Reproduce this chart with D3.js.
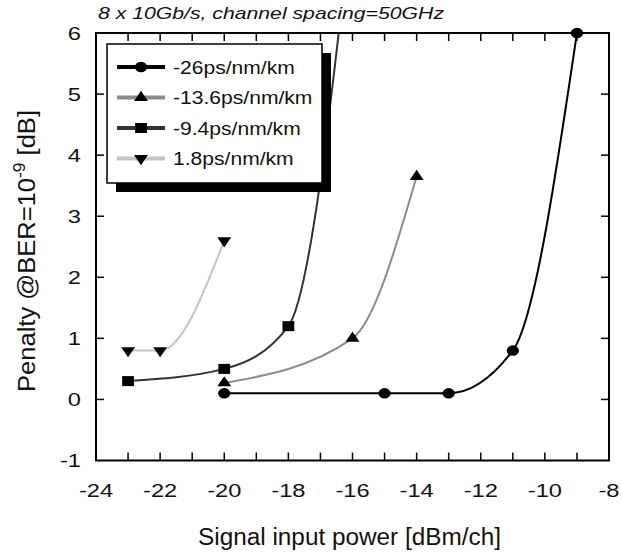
<!DOCTYPE html>
<html><head><meta charset="utf-8">
<script src="https://cdn.jsdelivr.net/npm/d3@7"></script>
<style>body{margin:0;background:#fff}svg{display:block}text{font-family:"Liberation Sans",Arial,Helvetica,sans-serif;fill:#111}</style>
</head><body><svg id="c" width="622" height="553"></svg>
<script>
// ---- data ----
const seriesNames = ["-26ps/nm/km", "-13.6ps/nm/km", "-9.4ps/nm/km", "1.8ps/nm/km"];
const xs26 = [-20, -15, -13, -11, -9];
const ys26 = [0.1, 0.1, 0.1, 0.8, 6];
const xs136 = [-20, -16, -14];
const ys136 = [0.27, 1.0, 3.65];
const xs94 = [-23, -20, -18, -16];
const ys94 = [0.3, 0.5, 1.2, 8];
const xs18 = [-23, -22, -20];
const ys18 = [0.8, 0.8, 2.6];
const xTickLabels = [-24, -22, -20, -18, -16, -14, -12, -10, -8];
const yTickLabels = [-1, 0, 1, 2, 3, 4, 5, 6];
const titleText = "8 x 10Gb/s, channel spacing=50GHz";
const xTitleText = "Signal input power [dBm/ch]";

// ---- styles ----
const colors = ["#000000", "#8c8c8c", "#333333", "#c4c4c4"];
const symbols = ["circle", "up", "square", "down"];
const series = [
  {name: seriesNames[0], xs: xs26, ys: ys26},
  {name: seriesNames[1], xs: xs136, ys: ys136},
  {name: seriesNames[2], xs: xs94, ys: ys94},
  {name: seriesNames[3], xs: xs18, ys: ys18}
];

const svg = d3.select("#c");
const L = 96, R = 609, T = 33, B = 460.5;
const x = d3.scaleLinear().domain([-24, -8]).range([L, R]);
const y = d3.scaleLinear().domain([-1, 6]).range([B, T]);

svg.append("defs").append("clipPath").attr("id", "clip")
  .append("rect").attr("x", L).attr("y", T).attr("width", R - L).attr("height", B - T);

// ticks (inward, all four sides)
const tickLen = 8;
const tg = svg.append("g").attr("stroke", "#000").attr("stroke-width", 1.5);
d3.range(-23, -8).forEach(v => {
  tg.append("line").attr("x1", x(v)).attr("x2", x(v)).attr("y1", B).attr("y2", B - tickLen);
  tg.append("line").attr("x1", x(v)).attr("x2", x(v)).attr("y1", T).attr("y2", T + tickLen);
});
yTickLabels.slice(1, -1).forEach(v => {
  tg.append("line").attr("x1", L).attr("x2", L + tickLen).attr("y1", y(v)).attr("y2", y(v));
  tg.append("line").attr("x1", R).attr("x2", R - tickLen).attr("y1", y(v)).attr("y2", y(v));
});

// tick labels
const tickFont = 18.5, tickSx = 1.28;
xTickLabels.forEach(v => {
  svg.append("g").attr("transform", `translate(${x(v)},497) scale(${tickSx},1)`)
    .append("text").attr("text-anchor", "middle").attr("font-size", tickFont).text(v);
});
yTickLabels.forEach(v => {
  svg.append("g").attr("transform", `translate(81,${y(v) + 6.6}) scale(${tickSx},1)`)
    .append("text").attr("text-anchor", "end").attr("font-size", tickFont).text(v);
});

// curves
const line = d3.line().x(d => x(d[0])).y(d => y(d[1])).curve(d3.curveMonotoneX);
const cg = svg.append("g").attr("clip-path", "url(#clip)");
series.forEach((s, i) => {
  const pts = s.xs.map((v, j) => [v, s.ys[j]]);
  cg.append("path").attr("d", line(pts)).attr("fill", "none")
    .attr("stroke", colors[i]).attr("stroke-width", 2);
});

// markers
function marker(g, type, cx, cy) {
  const gg = g.append("g").attr("transform", `translate(${cx},${cy}) scale(1.18,1)`);
  if (type === "circle") gg.append("circle").attr("r", 5.2).attr("fill", "#000");
  else if (type === "square") gg.append("rect").attr("x", -5).attr("y", -5).attr("width", 10).attr("height", 10).attr("fill", "#000");
  else {
    const p = d3.symbol().type(d3.symbolTriangle).size(60)();
    gg.append("path").attr("d", p).attr("fill", "#000")
      .attr("transform", type === "down" ? "rotate(180)" : null);
  }
}
const mg = svg.append("g");
series.forEach((s, i) => {
  s.xs.forEach((v, j) => {
    if (s.ys[j] <= 6) marker(mg, symbols[i], x(v), y(s.ys[j]));
  });
});

// frame
svg.append("rect").attr("x", L).attr("y", T).attr("width", R - L).attr("height", B - T)
  .attr("fill", "none").attr("stroke", "#000").attr("stroke-width", 2);

// legend
const lx = 107, ly = 44, lw = 215, lh = 139;
svg.append("rect").attr("x", lx + 9).attr("y", ly + 9).attr("width", lw).attr("height", lh).attr("fill", "#000");
svg.append("rect").attr("x", lx).attr("y", ly).attr("width", lw).attr("height", lh)
  .attr("fill", "#fff").attr("stroke", "#000").attr("stroke-width", 1.5);
series.forEach((s, i) => {
  const ry = 67 + i * 30.5;
  svg.append("line").attr("x1", 117).attr("x2", 165).attr("y1", ry).attr("y2", ry)
    .attr("stroke", colors[i]).attr("stroke-width", 4);
  marker(svg, symbols[i], 141, ry);
  svg.append("g").attr("transform", `translate(173,${ry + 6.5}) scale(1.14,1)`)
    .append("text").attr("font-size", 18.5).text(s.name);
});

// titles
svg.append("text").attr("x", 98).attr("y", 18.5).attr("font-size", 17).attr("font-style", "italic")
  .attr("textLength", 346).attr("lengthAdjust", "spacingAndGlyphs").text(titleText);
svg.append("text").attr("x", 198).attr("y", 545).attr("font-size", 23)
  .attr("textLength", 303).attr("lengthAdjust", "spacingAndGlyphs").text(xTitleText);
const yt = svg.append("g").attr("transform", "translate(35,251) rotate(-90) scale(1,1.12)")
  .append("text").attr("text-anchor", "middle").attr("font-size", 22)
  .attr("textLength", 282).attr("lengthAdjust", "spacingAndGlyphs");
yt.append("tspan").text("Penalty @BER=10");
yt.append("tspan").attr("font-size", 15).attr("dy", -9).text("-9");
yt.append("tspan").attr("dy", 9).text(" [dB]");
</script>
</body></html>
